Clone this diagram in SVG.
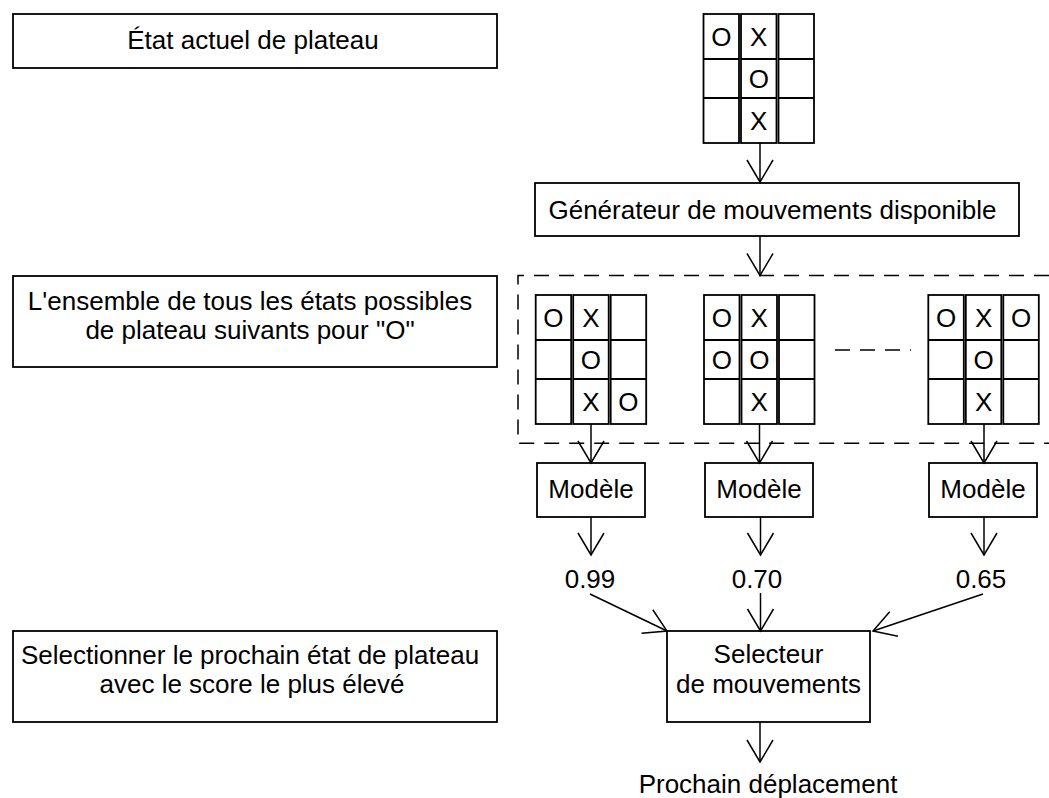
<svg xmlns="http://www.w3.org/2000/svg" xmlns:xlink="http://www.w3.org/1999/xlink" width="1049" height="798" viewBox="0 0 1049 798">
  <style>
    .box { fill: #ffffff; stroke: #000000; stroke-width: 1.8; }
    .cell { fill: #ffffff; stroke: #000000; stroke-width: 1.8; }
    .lbl { font-family: "Liberation Sans", Arial, sans-serif; font-size: 26px; fill: #000000; text-anchor: middle; }
    .mark { font-family: "Liberation Sans", Arial, sans-serif; font-size: 26px; fill: #000000; text-anchor: middle; }
    .edge { fill: none; stroke: #000000; stroke-width: 1.5; marker-end: url(#arrow); }
    .dash { fill: none; stroke: #000000; stroke-width: 1.5; stroke-dasharray: 15 10; }
  </style>
  <defs>
    <marker id="arrow" markerUnits="userSpaceOnUse" viewBox="-25 -15 27 30" markerWidth="27" markerHeight="30" refX="0" refY="0" orient="auto">
      <path d="M -22 -13 L 0 0 L -22 13" fill="none" stroke="#000000" stroke-width="1.5"/>
    </marker>
    <!-- 3x3 board: three separate column strips with row dividers -->
    <g id="grid">
      <rect class="cell" x="0" y="0" width="35.5" height="129"/>
      <rect class="cell" x="37.5" y="0" width="35.5" height="129"/>
      <rect class="cell" x="75" y="0" width="35.5" height="129"/>
      <path d="M0 45 H35.5 M37.5 45 H73 M75 45 H110.5 M0 84 H35.5 M37.5 84 H73 M75 84 H110.5" stroke="#000000" stroke-width="1.8"/>
    </g>
  </defs>

  <rect width="1049" height="798" fill="#ffffff"/>

  <!-- left column captions -->
  <g id="caption-current">
    <rect class="box" x="13" y="14" width="484" height="54"/>
    <text class="lbl" x="253" y="49">État actuel de plateau</text>
  </g>
  <g id="caption-set">
    <rect class="box" x="13" y="276" width="484" height="91"/>
    <text class="lbl" x="250" y="310">L'ensemble de tous les états possibles</text>
    <text class="lbl" x="250" y="339">de plateau suivants pour "O"</text>
  </g>
  <g id="caption-select">
    <rect class="box" x="13" y="631" width="484" height="91"/>
    <text class="lbl" x="250" y="664">Selectionner le prochain état de plateau</text>
    <text class="lbl" x="252" y="693">avec le score le plus élevé</text>
  </g>

  <!-- current board -->
  <g id="board-current" transform="translate(703.5,14)">
    <use xlink:href="#grid"/>
    <text class="mark" x="17.75" y="32">O</text>
    <text class="mark" x="55.25" y="32">X</text>
    <text class="mark" x="55.25" y="74">O</text>
    <text class="mark" x="55.25" y="116">X</text>
  </g>

  <g id="generator">
    <rect class="box" x="535" y="183" width="484" height="53"/>
    <text class="lbl" x="772.5" y="219">Générateur de mouvements disponible</text>
  </g>

  <!-- set of next states -->
  <g id="next-states">
    <path class="dash" d="M1049 275.5 H518 V443.3 H1049"/>
    <line class="dash" x1="835" y1="350" x2="911" y2="350"/>
  </g>
  <g id="board-a" transform="translate(535.7,295)">
    <use xlink:href="#grid"/>
    <text class="mark" x="17.75" y="32">O</text>
    <text class="mark" x="55.25" y="32">X</text>
    <text class="mark" x="55.25" y="74">O</text>
    <text class="mark" x="55.25" y="116">X</text>
    <text class="mark" x="92.75" y="116">O</text>
  </g>
  <g id="board-b" transform="translate(704,295)">
    <use xlink:href="#grid"/>
    <text class="mark" x="17.75" y="32">O</text>
    <text class="mark" x="55.25" y="32">X</text>
    <text class="mark" x="17.75" y="74">O</text>
    <text class="mark" x="55.25" y="74">O</text>
    <text class="mark" x="55.25" y="116">X</text>
  </g>
  <g id="board-c" transform="translate(928.3,295)">
    <use xlink:href="#grid"/>
    <text class="mark" x="17.75" y="32">O</text>
    <text class="mark" x="55.25" y="32">X</text>
    <text class="mark" x="92.75" y="32">O</text>
    <text class="mark" x="55.25" y="74">O</text>
    <text class="mark" x="55.25" y="116">X</text>
  </g>

  <!-- models -->
  <g id="model-a">
    <rect class="box" x="537" y="463" width="108" height="54"/>
    <text class="lbl" x="591" y="498">Modèle</text>
  </g>
  <g id="model-b">
    <rect class="box" x="705" y="463" width="108" height="54"/>
    <text class="lbl" x="759" y="498">Modèle</text>
  </g>
  <g id="model-c">
    <rect class="box" x="929" y="463" width="108" height="54"/>
    <text class="lbl" x="983" y="498">Modèle</text>
  </g>

  <!-- scores -->
  <g id="score-a"><text class="lbl" x="590" y="588">0.99</text></g>
  <g id="score-b"><text class="lbl" x="757" y="588">0.70</text></g>
  <g id="score-c"><text class="lbl" x="981" y="588">0.65</text></g>

  <g id="selector">
    <rect class="box" x="667" y="631" width="203" height="91"/>
    <text class="lbl" x="768.5" y="663">Selecteur</text>
    <text class="lbl" x="768.5" y="693">de mouvements</text>
  </g>

  <g id="next-move"><text class="lbl" x="768" y="793">Prochain déplacement</text></g>

  <!-- connectors -->
  <g id="connectors">
    <line class="edge" x1="760" y1="143" x2="760" y2="182"/>
    <line class="edge" x1="760" y1="236" x2="760" y2="275.5"/>
    <line class="edge" x1="591" y1="424" x2="591" y2="463"/>
    <line class="edge" x1="759.5" y1="424" x2="759.5" y2="463"/>
    <line class="edge" x1="984" y1="424" x2="984" y2="463"/>
    <line class="edge" x1="591" y1="517" x2="591" y2="555"/>
    <line class="edge" x1="760.5" y1="517" x2="760.5" y2="555"/>
    <line class="edge" x1="984" y1="517" x2="984" y2="555"/>
    <line class="edge" x1="590" y1="594" x2="667" y2="631"/>
    <line class="edge" x1="760.5" y1="593" x2="760.5" y2="631"/>
    <line class="edge" x1="983" y1="594" x2="873" y2="631"/>
    <line class="edge" x1="760" y1="722" x2="760" y2="762"/>
  </g>
</svg>
